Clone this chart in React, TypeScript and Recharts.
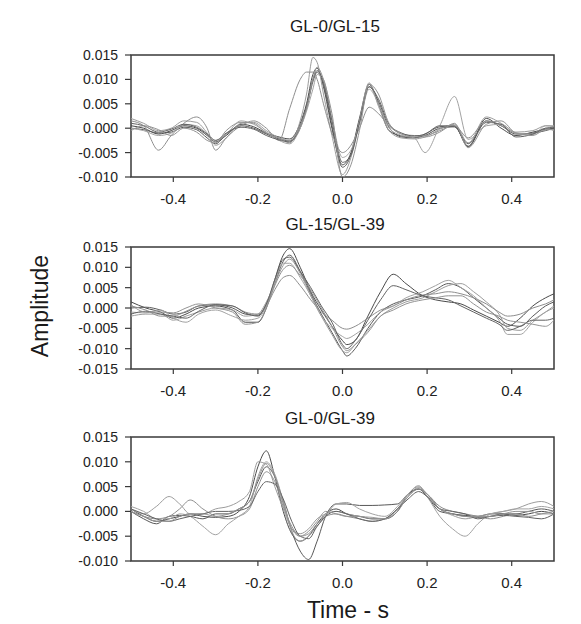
import React from 'react';
import { LineChart, Line, XAxis, YAxis, ReferenceArea } from 'recharts';

// x-axis ticks (seconds) shared by every panel
const timeTicks = [-0.4, -0.2, 0, 0.2, 0.4];
const ampTicksShort = [-0.01, -0.005, 0, 0.005, 0.01, 0.015];
const ampTicksWide = [-0.015, -0.01, -0.005, 0, 0.005, 0.01, 0.015];

// ---- GL-0/GL-15 (values in 1e-3) ----
const t1 = [-0.5, -0.47, -0.435, -0.405, -0.375, -0.345, -0.32, -0.3, -0.275, -0.24, -0.21, -0.18, -0.15, -0.125, -0.1, -0.085, -0.07, -0.06, -0.045, -0.025, 0, 0.02, 0.04, 0.063, 0.085, 0.11, 0.14, 0.17, 0.195, 0.23, 0.265, 0.297, 0.34, 0.375, 0.41, 0.45, 0.48, 0.5];
const p1a = [0.5, 0, -1.2, -0.5, 0.5, 0, -1.5, -2.8, -1.5, 0.8, 0.3, -1, -1.8, -2.2, 1, 5, 11, 12.3, 8.5, 0, -7.5, -5, 2, 9, 5, -0.5, -1.6, -1.9, -1.5, 0, 0.3, -3.7, 2, 0, -1.5, -0.8, -0.2, 0];
const p1b = [0, -0.3, -1, -0.8, 0.2, -0.3, -2, -3.2, -1.2, 0.5, 0, -1.2, -2.2, -2.6, 0, 4, 9.5, 11.5, 9, 0.5, -8, -5.5, 1.5, 8.5, 5.5, 0.2, -1.8, -2, -1.2, 0.3, 0.5, -3.8, 1.5, 0.5, -1.2, -1, -0.5, 0];
const p1c = [2, 1, -0.5, 0, 1.5, 1.2, -1, -3.5, -2, 1, 1.2, -0.5, -2, -3, 1.5, 7, 14.5, 13.5, 7, -1.5, -9.5, -6, 1.5, 9.3, 4.5, -0.5, -2, -2.2, -1.8, -0.2, 0.8, -3, 2.3, 1, -0.8, -0.5, 0.5, 0.5];
const p1d = [1.5, 0.5, -4.5, -1.5, 1, 2.3, 0, -4.5, -2, 0.5, 1.5, 0, -2.5, 4, 10, 11.5, 11.5, 10, 5, -1, -5, -3.5, 0, 4.3, 3, 0.5, -1.2, -1.5, -1.5, -0.5, 0.5, -2, 1.5, 0.5, -1, -1.2, 0, -0.5];
const p1e = [0, -0.5, -1.5, -1, 0.8, 0.5, -1.2, -2.5, -1.2, 1.5, 0.8, -0.8, -2.5, -3.2, 0, 3.5, 8, 11, 10, 2, -6, -4.5, 1, 8, 5, 0, -1.5, -2, -5, 0.5, 6.5, -2.3, 0.5, 0.8, -1, -1.3, 0.5, 0.3];
const p1f = [1, 0.5, -0.8, -0.2, 0.8, 0.2, -1.2, -2.5, -1, 0.2, -0.2, -1.5, -2.4, -2.8, 0.5, 4.5, 10, 11.8, 9.5, 1.5, -7, -5.5, 1, 8.5, 6, 0.8, -1, -1.6, -1.2, 0.5, 0.3, -3.2, 1.2, 0.8, -1.8, -1.2, 0, 0.2];
const p1g = [-0.5, 0.5, -0.3, -1.5, 0, -0.8, -2.5, -3, -0.5, 1.2, 1, -1, -2, -2.5, 0.5, 4, 10, 12.5, 10, 3, -10, -7.5, -0.5, 9, 7, 1, -1.2, -1.8, -1.8, -0.8, 1, -4, 0.8, 1.5, -1, -1.5, -0.3, -0.3];

// ---- GL-15/GL-39 ----
const t2 = [-0.5, -0.465, -0.43, -0.4, -0.37, -0.34, -0.3, -0.26, -0.23, -0.2, -0.18, -0.16, -0.14, -0.125, -0.1, -0.075, -0.05, -0.025, 0, 0.01, 0.03, 0.06, 0.09, 0.12, 0.15, 0.19, 0.22, 0.25, 0.28, 0.31, 0.34, 0.37, 0.39, 0.42, 0.45, 0.48, 0.5];
const p2a = [1.5, 0, -1, -2.5, -1.5, 0, 0.5, -0.5, -3.5, -3.5, 0, 7, 13, 14.6, 10, 4, -0.5, -4.5, -8, -9, -8, -2, 4, 8.3, 6, 3, 2, 1.5, 1, -0.5, -2, -3.5, -4.5, -2.5, 0.5, 2.5, 3.5];
const p2b = [0, 0.2, -0.5, -1.5, -1, 0.5, 0.8, 0, -1.5, -1.8, 1, 6, 11.5, 13, 9, 3.5, -1.5, -6, -10.5, -11.8, -10, -5, -1, 1, 2, 3, 4.5, 6, 5, 2.5, 0, -2.5, -4, -4.5, -2, 0.5, 1.5];
const p2c = [-2, -1.5, -1.5, -3, -2, -1, 0, -0.5, -2, -1.5, 1.5, 6, 10.5, 12, 8.5, 3, -2, -6.5, -10.5, -11, -9, -5.5, -2, 0, 1.5, 2.5, 4, 5.5, 6, 4, 1.5, -1.5, -5, -5.5, -3, -1, 0.5];
const p2d = [0.5, -0.5, -2, -2, -0.8, 0.5, 1, 0.5, -1, -1.5, 0.5, 4.5, 7.5, 8, 5.5, 2, -1, -3, -5, -5.2, -4.5, -2.5, -0.5, 0.5, 2, 3.2, 3.5, 4, 3.5, 2.5, 1, -1, -2, -1.5, 0, 1, 2];
const p2e = [-1, -1.2, -0.5, -2.5, -3.5, -1.5, -0.5, -2, -3, -2.5, 0.5, 6.5, 11, 11, 7.5, 3, -2, -5, -7, -7.5, -6.5, -4, -1, 0.5, 2.5, 4, 5.5, 6.8, 5, 3, 0, -3, -6.5, -6.5, -3.5, -1, 0];
const p2f = [-1.5, -0.8, -1.5, -2, -2.5, -0.8, 0.8, 0.5, -1.2, -2, 1, 7, 12, 12.5, 9, 5, 0.5, -3.5, -9, -10, -8, -3, 2, 5.5, 4.5, 3, 2.5, 2, 0.5, -1, -2.5, -4, -5.5, -4.5, -3, -3, -2.5];
const p2g = [0.8, -1, -1, -1.2, 0, 1, 0, -1, -4, -3.5, 0, 5.5, 9.5, 10.5, 8, 4.5, 0, -4.5, -9.5, -10.5, -9, -6, -2, -0.5, 1, 2, 2.5, 3, 3, 1, -1, -2, -3, -3.5, -4, -4.5, -3];

// ---- GL-0/GL-39 ----
const t3 = [-0.5, -0.47, -0.44, -0.41, -0.385, -0.36, -0.33, -0.3, -0.27, -0.245, -0.22, -0.2, -0.18, -0.16, -0.14, -0.12, -0.1, -0.08, -0.06, -0.04, -0.015, 0.01, 0.04, 0.07, 0.1, 0.13, 0.155, 0.18, 0.2, 0.23, 0.26, 0.29, 0.32, 0.35, 0.38, 0.41, 0.44, 0.47, 0.5];
const p3a = [0.5, -1, -2, -1.5, -1, -0.5, -1, -1.2, -1, 0, 3, 9, 12.2, 7, 0, -4.5, -6, -5, -2.5, -0.5, 0.5, -0.5, -1, -1.5, -1.5, 0, 3.5, 4.5, 3.5, 0.5, -0.5, -0.8, -1, -0.5, -0.5, -0.8, -0.5, 0, -0.5];
const p3b = [0, -1.5, -2.5, -1, -0.8, -1, -1.5, -0.5, -0.5, 0.5, 2, 6, 9, 7, 2, -4, -8, -9.7, -6, -1, 1.5, 1.5, 1.2, 1.2, 1.3, 1.5, 3.5, 4.5, 3, 0, -0.5, -1, -1.2, -1, -0.5, -0.5, 0, 0.5, 0];
const p3c = [0.5, -0.5, 1, 3, 1.5, -0.5, -0.5, 0.5, 1, 2, 4, 10, 9.5, 5, 0.5, -3.5, -4.5, -3.5, -1.5, -0.5, 0, -0.5, -1, -1.2, -1.5, 0.5, 3.5, 5, 3.5, 0.5, -0.8, -1.5, -1, -0.5, 0, 0.5, 1.5, 2, 1];
const p3d = [0, -1, -1.5, -1, 0.5, 2.3, 0.5, -1, -1.5, -1, 0.5, 5, 8, 6, 1, -3, -5, -4.5, -2.5, -1, -0.5, -1, -1.5, -2, -1.5, 0.5, 3, 4.5, 3.5, 1, 0, -0.5, -1, -1.5, -1, -0.5, -1, -0.5, 0];
const p3e = [1, 0, -1.5, -1.5, -0.5, -1, -3, -4.7, -2.5, -1, 1, 7, 10, 7.5, 2, -4, -6, -5, -3, -1, 1.5, 1.8, 0.5, -0.5, -1, 1, 3.5, 5.2, 3, -1, -3.5, -5, -2.5, -0.5, 0, 0.5, 0.5, 1, 0.5];
const p3f = [0.5, -0.5, -1.5, -2, -1.5, -1, -0.5, 0, 0, 0.2, 1, 4, 6, 5.5, 2.5, -2, -5, -5.5, -3, -1, 0, -0.5, -1.5, -2, -1.5, 0.5, 2.5, 4, 3, 0.5, 0, -0.5, -1.5, -1, -0.8, -1, -1.2, -1.5, -0.5];
const p3g = [0, -1, -2, -2, -1, -0.5, -0.5, -1, -0.5, 0.5, 2, 6.5, 9.7, 7, 1.5, -3.5, -5, -4, -2, 0, -0.5, -1, -1, -1.5, -1.5, 0, 3, 4.8, 3.5, 0.5, -0.5, -1, -1, -1, -0.5, 0, 0, -0.5, -0.5];

const strokes = ['#4a4a4a', '#585858', '#9c9c9c', '#8e8e8e', '#a2a2a2', '#626262', '#939393'];
const FONT = '"Liberation Sans", Arial, sans-serif';
const AXIS = '#3a3a3a';

function buildRows(times: number[], series: number[][]) {
  return times.map((t, i) => {
    const row: any = { t };
    series.forEach((s, k) => {
      row['s' + k] = s[i] / 1000;
    });
    return row;
  });
}

function Panel({ times, series, yTicks, top, height }: any) {
  const rows = buildRows(times, series);
  const yDomain = [yTicks[0], yTicks[yTicks.length - 1]];
  const tickLine = { stroke: AXIS, strokeWidth: 1.2 };
  return (
    <div style={{ position: 'absolute', left: 0, top }}>
      <LineChart width={581} height={height} data={rows} margin={{ top: 14, right: 26, bottom: 5, left: 71 }}>
        <XAxis
          xAxisId="b"
          dataKey="t"
          type="number"
          domain={[-0.5, 0.5]}
          ticks={timeTicks}
          allowDataOverflow
          tickFormatter={(v: number) => v.toFixed(1)}
          axisLine={false}
          tickLine={tickLine}
          tick={{ fontSize: 15, fill: '#222', fontFamily: FONT }}
          tickSize={5}
          tickMargin={11}
          height={30}
        />
        <XAxis
          xAxisId="top"
          orientation="top"
          dataKey="t"
          type="number"
          domain={[-0.5, 0.5]}
          ticks={timeTicks}
          tick={false}
          axisLine={false}
          tickLine={tickLine}
          tickSize={5}
          height={1}
        />
        <YAxis
          yAxisId="l"
          type="number"
          domain={yDomain}
          ticks={yTicks}
          allowDataOverflow
          tickFormatter={(v: number) => v.toFixed(3)}
          axisLine={false}
          tickLine={tickLine}
          tick={{ fontSize: 14, fill: '#222', fontFamily: FONT }}
          tickSize={6}
          tickMargin={7}
          width={60}
          interval={0}
        />
        <YAxis
          yAxisId="r"
          orientation="right"
          type="number"
          domain={yDomain}
          ticks={yTicks}
          tick={false}
          axisLine={false}
          tickLine={tickLine}
          tickSize={5}
          width={1}
          interval={0}
        />
        {series.map((_: number[], k: number) => (
          <Line
            key={k}
            xAxisId="b"
            yAxisId="l"
            dataKey={'s' + k}
            type="monotone"
            stroke={strokes[k % strokes.length]}
            strokeWidth={1}
            dot={false}
            isAnimationActive={false}
          />
        ))}
        <ReferenceArea
          xAxisId="b"
          yAxisId="l"
          x1={-0.5}
          x2={0.5}
          y1={yDomain[0]}
          y2={yDomain[1]}
          fill="none"
          fillOpacity={0}
          stroke={AXIS}
          strokeWidth={1.5}
          ifOverflow="visible"
        />
      </LineChart>
    </div>
  );
}

export default function App() {
  return (
    <div style={{ position: 'absolute', left: 0, top: 0, width: 581, height: 624, background: '#fff', fontFamily: FONT }}>
      <Panel times={t1} series={[p1a, p1b, p1c, p1d, p1e, p1f, p1g]} yTicks={ampTicksShort} top={40} height={172} />
      <Panel times={t2} series={[p2a, p2b, p2c, p2d, p2e, p2f, p2g]} yTicks={ampTicksWide} top={232} height={172} />
      <Panel times={t3} series={[p3a, p3b, p3c, p3d, p3e, p3f, p3g]} yTicks={ampTicksShort} top={422} height={174} />
      <svg width={581} height={624} style={{ position: 'absolute', left: 0, top: 0, pointerEvents: 'none' }}>
        <g fontFamily={FONT} fill="#1a1a1a">
          <text x={335} y={32} textAnchor="middle" fontSize={17}>GL-0/GL-15</text>
          <text x={335} y={230} textAnchor="middle" fontSize={17}>GL-15/GL-39</text>
          <text x={330} y={424} textAnchor="middle" fontSize={17}>GL-0/GL-39</text>
          <text x={348} y={618} textAnchor="middle" fontSize={23}>Time - s</text>
          <text x={48} y={306} textAnchor="middle" fontSize={23} transform="rotate(-90 48 306)">Amplitude</text>
        </g>
      </svg>
    </div>
  );
}
